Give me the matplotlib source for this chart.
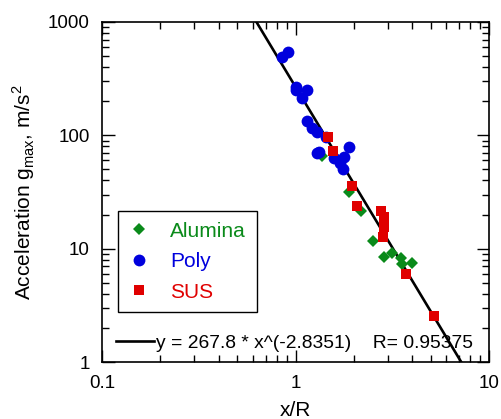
import matplotlib
matplotlib.use('Agg')
import matplotlib.pyplot as plt
from matplotlib.ticker import FuncFormatter, LogLocator
from matplotlib.lines import Line2D
import numpy as np

plt.rcParams['font.family'] = ['Liberation Sans', 'DejaVu Sans']
plt.rcParams['mathtext.fontset'] = 'custom'
plt.rcParams['mathtext.rm'] = 'Liberation Sans'

# Dados medidos (x/R, aceleração)
alumina_x = [1.37, 1.88, 2.17, 2.50, 2.85, 3.17, 3.49, 3.57, 3.98]
alumina_y = [66.2, 31.9, 21.7, 11.8, 8.4, 9.1, 8.2, 7.3, 7.4]

poly_x = [0.85, 0.91, 1.00, 1.00, 1.14, 1.08, 1.14, 1.21, 1.29, 1.43,
          1.33, 1.29, 1.58, 1.88, 1.77, 1.69, 1.75]
poly_y = [491, 543, 268, 252, 252, 214, 134, 117, 108, 97,
          71.7, 70.3, 63.5, 79.4, 64.8, 57.4, 50.8]

sus_x = [1.48, 1.56, 1.97, 2.07, 2.75, 2.88, 2.88, 2.82, 3.74, 5.21]
sus_y = [97, 73.2, 36.0, 24.0, 21.7, 19.2, 15.4, 12.6, 5.94, 2.54]

# Ajuste em lei de potência
fit_a = 267.8
fit_b = -2.8351
fit_r = 0.95375

fig = plt.figure(figsize=(5.01, 4.19), dpi=100)
ax = fig.add_axes([0.2036, 0.136, 0.7725, 0.8115])

xs = np.logspace(-1, 1, 200)
ax.plot(xs, fit_a * xs ** fit_b, color='black', lw=1.9, zorder=2)

ax.plot(alumina_x, alumina_y, 'D', color='#0a8a1a', ms=6, mew=0, label='Alumina', zorder=3)
ax.plot(poly_x, poly_y, 'o', color='#0000dd', ms=8.5, mew=0, label='Poly', zorder=3)
ax.plot(sus_x, sus_y, 's', color='#e00000', ms=7.5, mew=0, label='SUS', zorder=4)

ax.set_xscale('log')
ax.set_yscale('log')
ax.set_xlim(0.1, 10)
ax.set_ylim(1, 1000)

fmt = FuncFormatter(lambda v, p: '%g' % v)
ax.xaxis.set_major_formatter(fmt)
ax.yaxis.set_major_formatter(fmt)
ax.xaxis.set_minor_locator(LogLocator(subs=np.arange(2, 10)))
ax.yaxis.set_minor_locator(LogLocator(subs=np.arange(2, 10)))
ax.xaxis.set_minor_formatter(FuncFormatter(lambda v, p: ''))
ax.yaxis.set_minor_formatter(FuncFormatter(lambda v, p: ''))
ax.tick_params(which='both', direction='in', top=True, right=True, labelsize=13.5, width=1)
ax.tick_params(which='major', length=9, pad=9)
ax.tick_params(which='minor', length=5)
for s in ax.spines.values():
    s.set_linewidth(1.2)

ax.set_xlabel('x/R', fontsize=15, labelpad=7)
ax.set_ylabel('Acceleration g$_{\\mathregular{max}}$, m/s$^{\\mathregular{2}}$', fontsize=15, labelpad=8)

leg = ax.legend(loc='lower left', bbox_to_anchor=(0.042, 0.147), fontsize=15,
                frameon=True, fancybox=False, edgecolor='black', framealpha=1,
                handlelength=1.0, handletextpad=1.0, borderpad=0.5, labelspacing=0.55,
                borderaxespad=0)
leg.get_frame().set_linewidth(1)
for t, c in zip(leg.get_texts(), ['#0a8a1a', '#0000dd', '#e00000']):
    t.set_color(c)
ax.add_artist(leg)

rotulo = 'y = %.1f * x^(%.4f)    R= %.5f' % (fit_a, fit_b, fit_r)
ax.legend([Line2D([], [], color='black', lw=1.9)], [rotulo], loc='lower left',
          bbox_to_anchor=(0.016, 0.008), frameon=False, fontsize=13.9,
          handlelength=1.95, handletextpad=0.15, borderaxespad=0)

fig.savefig('out.png', dpi=100)
